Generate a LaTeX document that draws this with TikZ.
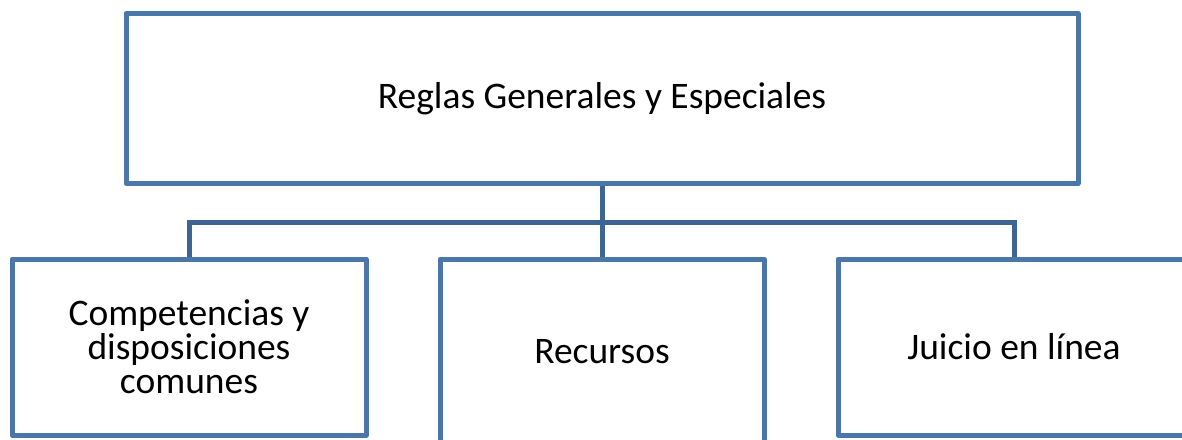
\documentclass[tikz,border=0pt]{standalone}
\usepackage{fontspec}
\setmainfont{Carlito}
\definecolor{boxblue}{RGB}{74,118,170}
\definecolor{linkblue}{RGB}{62,100,148}
\begin{document}
\begin{tikzpicture}[x=1pt,y=-1pt,
  orgbox/.style={draw=boxblue, line width=5pt, line join=round, fill=white, rectangle, inner sep=0pt, align=center, font=\fontsize{37.5}{34}\selectfont},
  link/.style={draw=linkblue, line width=5pt}]
\path[use as bounding box, clip] (0,0) rectangle (1182,439);
\fill[white] (0,0) rectangle (1182,439);
\coordinate (barL) at (189,222);
\coordinate (barR) at (1014,222);
\coordinate (barM) at (602,222);
\node[orgbox, minimum width=952pt, minimum height=170pt] (top) at (602,98.5) {Reglas Generales y Especiales};
\node[orgbox, minimum width=354pt, minimum height=176pt] (b1) at (189,347) {Competencias y\\disposiciones\\comunes};
\node[orgbox, minimum width=324pt, minimum height=186pt] (b2) at (602,352) {Recursos};
\node[orgbox, minimum width=352pt, minimum height=176pt] (b3) at (1014,347) {Juicio en línea};
\draw[link] (top.south) -- (barM);
\draw[link, line join=miter] (b1.north) -- (barL) -- (barR) -- (b3.north);
\draw[link] (barM) -- (b2.north);
\end{tikzpicture}
\end{document}
